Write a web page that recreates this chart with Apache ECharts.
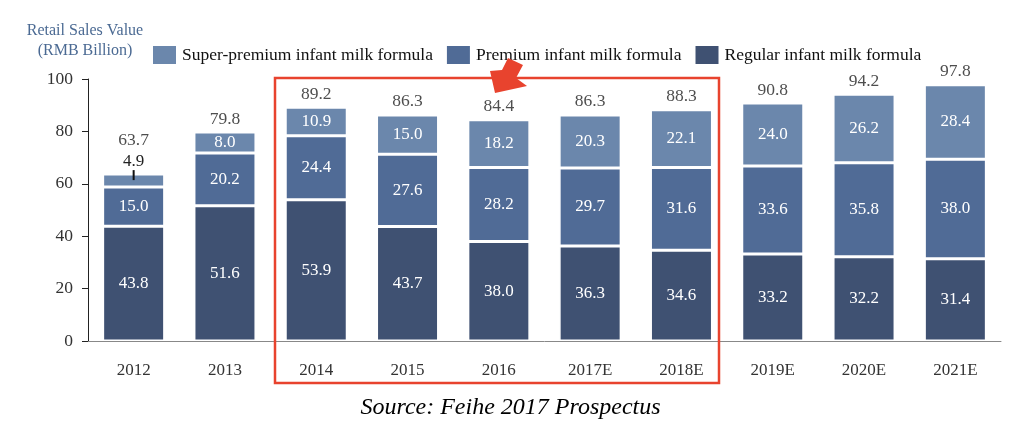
<!DOCTYPE html>
<html>
<head>
<meta charset="utf-8">
<script src="https://cdn.jsdelivr.net/npm/echarts@6/dist/echarts.min.js"></script>
<style>html,body{margin:0;padding:0;background:#fff;}#c{width:1021px;height:439px;}</style>
</head>
<body>
<div id="c"></div>
<script>
const categories = ['2012','2013','2014','2015','2016','2017E','2018E','2019E','2020E','2021E'];
const regular = [43.8, 51.6, 53.9, 43.7, 38.0, 36.3, 34.6, 33.2, 32.2, 31.4];
const premium = [15.0, 20.2, 24.4, 27.6, 28.2, 29.7, 31.6, 33.6, 35.8, 38.0];
const superPremium = [4.9, 8.0, 10.9, 15.0, 18.2, 20.3, 22.1, 24.0, 26.2, 28.4];
const totals = [63.7, 79.8, 89.2, 86.3, 84.4, 86.3, 88.3, 90.8, 94.2, 97.8];
const yTicks = [0, 20, 40, 60, 80, 100];

const FONT = 'Liberation Serif';
const C_SUPER = '#6b87ac';
const C_PREM = '#506b96';
const C_REG = '#3f5172';
const RED = '#e8432e';

const chart = echarts.init(document.getElementById('c'));

const insideLabel = {
  show: true, position: 'inside', color: '#fff', fontFamily: FONT, fontSize: 17,
  formatter: p => p.value.toFixed(1)
};
const barStyle = c => ({ color: c, borderColor: '#fff', borderWidth: 1.5 });

const superData = superPremium.map((v, i) => i === 0 ? {
  value: v,
  label: {
    position: 'top', distance: -6, color: '#333',
    formatter: '{a|' + v.toFixed(1) + '}\n{t|}',
    rich: {
      a: { fontFamily: FONT, fontSize: 17, color: '#222', lineHeight: 18 },
      t: { backgroundColor: '#111', width: 2, height: 10 }
    }
  }
} : v);

const totalData = totals.map((v, i) => ({
  value: v,
  label: { distance: i === 0 ? 25 : 4 }
}));

chart.setOption({
  animation: false,
  backgroundColor: '#fff',
  textStyle: { fontFamily: FONT },
  grid: { left: 88, right: 20, top: 79, bottom: 98, containLabel: false },
  title: {
    text: 'Retail Sales Value\n(RMB Billion)',
    left: 80, top: 16, textAlign: 'center',
    textStyle: { fontFamily: FONT, fontSize: 16, fontWeight: 'normal', color: '#4b6a93', lineHeight: 20 }
  },
  legend: {
    left: 148, top: 41, itemWidth: 23, itemHeight: 18, itemGap: 14, icon: 'rect',
    textStyle: { fontFamily: FONT, fontSize: 17.5, color: '#111', padding: [0, 0, 0, 1] },
    data: ['Super-premium infant milk formula', 'Premium infant milk formula', 'Regular infant milk formula'],
    itemStyle: { borderWidth: 0 }
  },
  xAxis: {
    type: 'category', data: categories,
    axisLine: { lineStyle: { color: '#888', width: 1 } },
    axisTick: { show: false },
    axisLabel: { fontFamily: FONT, fontSize: 17, color: '#333', margin: 21 }
  },
  yAxis: {
    type: 'value', min: 0, max: 100, interval: 20,
    axisLine: { show: true, lineStyle: { color: '#222', width: 1 } },
    axisTick: { show: true, length: 6, lineStyle: { color: '#222' } },
    splitLine: { show: false },
    axisLabel: { fontFamily: FONT, fontSize: 17.5, color: '#333', margin: 15,
      formatter: v => yTicks.includes(v) ? String(v) : '' }
  },
  series: [
    { name: 'Regular infant milk formula', type: 'bar', stack: 's', data: regular, barWidth: 62,
      itemStyle: barStyle(C_REG), label: insideLabel },
    { name: 'Premium infant milk formula', type: 'bar', stack: 's', data: premium, barWidth: 62,
      itemStyle: barStyle(C_PREM), label: insideLabel },
    { name: 'Super-premium infant milk formula', type: 'bar', stack: 's', data: superData, barWidth: 62,
      itemStyle: barStyle(C_SUPER), label: insideLabel },
    { name: 'Total', type: 'scatter', data: totalData, symbolSize: 0, silent: true,
      label: { show: true, position: 'top', fontFamily: FONT, fontSize: 17.5, color: '#222',
        formatter: p => p.value.toFixed(1) } }
  ],
  graphic: [
    { type: 'rect', shape: { x: 275, y: 78, width: 444, height: 305 },
      style: { fill: 'none', stroke: RED, lineWidth: 2.5 }, z: 100 },
    { type: 'polygon', shape: { points: [[495,93],[490,71],[502,70],[508,58],[523,65],[516,78],[527,86]] },
      style: { fill: RED }, z: 101 },
    { type: 'text', left: 'center', top: 396,
      style: { text: 'Source: Feihe 2017 Prospectus', font: 'italic 24px "Liberation Serif"', fill: '#000' } }
  ]
});
</script>
</body>
</html>
